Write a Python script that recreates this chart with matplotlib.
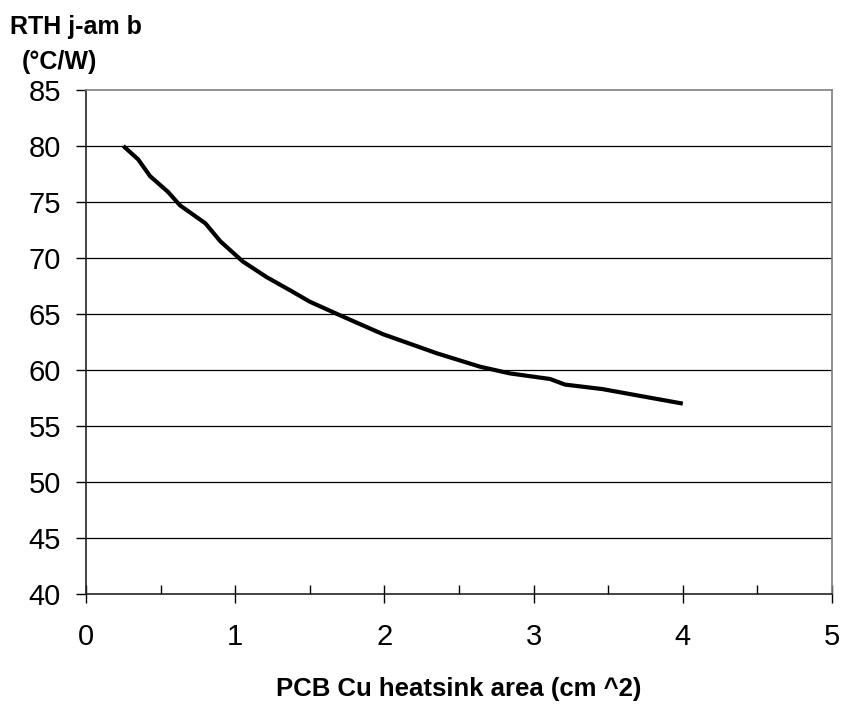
import matplotlib
matplotlib.use("Agg")
import matplotlib.pyplot as plt
from matplotlib.ticker import MultipleLocator

# Thermal resistance vs copper area
area_cm2 = [0.25, 0.35, 0.43, 0.55, 0.63, 0.80, 0.85, 0.90, 1.05, 1.21,
            1.37, 1.50, 1.70, 1.99, 2.35, 2.64, 2.84, 3.11, 3.21, 3.46, 4.0]
rth = [80.0, 78.8, 77.3, 75.9, 74.7, 73.1, 72.3, 71.5, 69.7, 68.3,
       67.1, 66.1, 64.9, 63.2, 61.5, 60.3, 59.7, 59.2, 58.7, 58.3, 57.0]

x_ticks = [0, 1, 2, 3, 4, 5]
y_ticks = [40, 45, 50, 55, 60, 65, 70, 75, 80, 85]

plt.rcParams['font.family'] = ['Liberation Sans', 'DejaVu Sans']

fig = plt.figure(figsize=(8.44, 7.06), dpi=100)
ax = fig.add_axes([0.1019, 0.1586, 0.8839, 0.7139])

ax.plot(area_cm2, rth, color='black', lw=3, solid_capstyle='butt')

ax.set_xlim(0, 5)
ax.set_ylim(40, 85)
ax.set_xticks(x_ticks)
ax.set_yticks(y_ticks)
ax.xaxis.set_minor_locator(MultipleLocator(0.5))

for y in y_ticks[1:-1]:
    ax.axhline(y, color='black', lw=0.9, zorder=0)

ax.spines['top'].set_color('#808080')
ax.spines['right'].set_color('#808080')
ax.spines['left'].set_color('#222222')
ax.spines['bottom'].set_color('#222222')
for s in ax.spines.values():
    s.set_linewidth(1.2)

ax.tick_params(axis='y', which='major', direction='out', length=7, width=1,
               pad=11, labelsize=21)
ax.tick_params(axis='x', which='major', direction='inout', length=13, width=1,
               pad=14, labelsize=21)
ax.tick_params(axis='x', which='minor', direction='in', length=6.5, width=1)

fig.text(10 / 844, 1 - 27 / 706, 'RTH j-am b', fontsize=18, fontweight='bold',
         ha='left', va='center')
fig.text(22 / 844, 1 - 62 / 706, '(°C/W)', fontsize=18, fontweight='bold',
         ha='left', va='center')
fig.text(459 / 844, 1 - 689 / 706, 'PCB Cu heatsink area (cm ^2)', fontsize=18.5,
         fontweight='bold', ha='center', va='center')

fig.savefig('out.png', dpi=100)
